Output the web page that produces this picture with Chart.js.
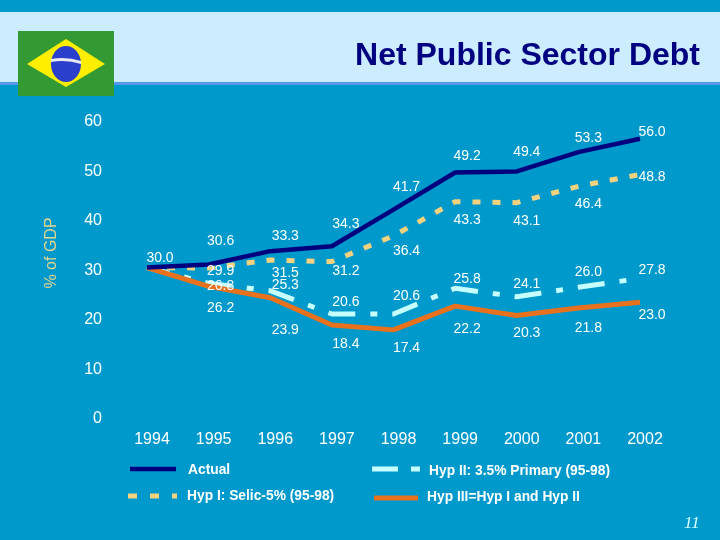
<!DOCTYPE html>
<html lang="en">
  <head>
    <meta charset="UTF-8" />
    <title>Net Public Sector Debt</title>
    <script src="https://cdn.jsdelivr.net/npm/chart.js"></script>
    <style>
      html, body { margin: 0; padding: 0; background: #0099cc; overflow: hidden; }
      #slide { position: relative; width: 720px; height: 540px; background: #0099cc; font-family: "Liberation Sans", Arial, sans-serif; }
      #band { position: absolute; left: 0; top: 12px; width: 720px; height: 70px; background: #ccecff; border-bottom: 3px solid #5599ee; }
      #title { position: absolute; right: 20px; top: 35px; font-size: 32px; line-height: 38px; font-weight: bold; color: #000080; white-space: nowrap; }
      #flag { position: absolute; left: 18px; top: 31px; }
      #pageNo { position: absolute; left: 684px; top: 513px; font: italic 17px "Liberation Serif", serif; color: #d8ffff; }
      canvas { position: absolute; left: 0; top: 0; }
    </style>
  </head>
  <body>
    <div id="slide">
      <div id="band"></div>
      <canvas id="debtChart" width="720" height="540"></canvas>
      <svg id="flag" width="96" height="65" viewBox="0 0 96 65">
        <rect width="96" height="65" fill="#339933" />
        <polygon points="48,8 87,33 48,56 9,33" fill="#ffee00" />
        <ellipse cx="48" cy="33" rx="15" ry="18" fill="#2a3fcc" />
        <path d="M33 28 Q48 25 63 30 L63 33 Q48 28 33 31 Z" fill="#e8e8f0" />
      </svg>
      <div id="title">Net Public Sector Debt</div>
      <div id="pageNo">11</div>
    </div>

    <script>
      var years = ['1994', '1995', '1996', '1997', '1998', '1999', '2000', '2001', '2002'];
      var yTicks = [0, 10, 20, 30, 40, 50, 60];

      var actual = [30.0, 30.6, 33.3, 34.3, 41.7, 49.2, 49.4, 53.3, 56.0];
      var hypOne = [30.0, 29.9, 31.5, 31.2, 36.4, 43.3, 43.1, 46.4, 48.8];
      var hypTwo = [30.0, 26.8, 25.3, 20.6, 20.6, 25.8, 24.1, 26.0, 27.8];
      var hypThree = [30.0, 26.2, 23.9, 18.4, 17.4, 22.2, 20.3, 21.8, 23.0];

      var actualName = 'Actual';
      var hypOneName = 'Hyp I: Selic-5% (95-98)';
      var hypTwoName = 'Hyp II: 3.5% Primary (95-98)';
      var hypThreeName = 'Hyp III=Hyp I and Hyp II';

      var white = '#ffffff';
      var navy = '#00007e';
      var sand = '#f5d27f';
      var ice = '#c5ffff';
      var orange = '#e8711e';

      // label nudges in px from each point, the source slide has them placed by hand
      var labelShift = [
        { dx: [13, 12, 15, 14, 13, 12, 10, 10, 12], dy: [-9, -23, -15, -22, -22, -16, -19, -14, -7] },
        { dx: [null, 12, 15, 14, 13, 12, 10, 10, 12], dy: [0, 3, 13, 10, 15, 18, 18, 18, 3] },
        { dx: [null, 12, 15, 14, 13, 12, 10, 10, 12], dy: [0, 3, -6, -12, -18, -9, -13, -15, -8] },
        { dx: [null, 12, 15, 14, 13, 12, 10, 10, 12], dy: [0, 22, 32, 19, 18, 23, 18, 20, 13] }
      ];

      var pointLabels = {
        id: 'pointLabels',
        afterDatasetsDraw: function (chart) {
          var ctx = chart.ctx;
          ctx.save();
          ctx.font = '14px "Liberation Sans", Arial, sans-serif';
          ctx.fillStyle = white;
          ctx.textAlign = 'center';
          ctx.textBaseline = 'middle';
          chart.data.datasets.forEach(function (ds, i) {
            chart.getDatasetMeta(i).data.forEach(function (pt, j) {
              var dx = labelShift[i].dx[j];
              if (dx === null) return;
              ctx.fillText(ds.data[j].toFixed(1), pt.x + dx, pt.y + labelShift[i].dy[j]);
            });
          });
          ctx.restore();
        }
      };

      var legendRows = [
        { ds: 0, x1: 130, x2: 176, y: 469, tx: 188, ty: 470, dash: [] },
        { ds: 1, x1: 128, x2: 177, y: 496, tx: 187, ty: 496, dash: [9, 13] },
        { ds: 2, x1: 372, x2: 420, y: 469, tx: 429, ty: 471, dash: [26, 13, 9, 13] },
        { ds: 3, x1: 374, x2: 418, y: 498, tx: 427, ty: 497, dash: [] }
      ];

      var slideLegend = {
        id: 'slideLegend',
        afterDraw: function (chart) {
          var ctx = chart.ctx;
          ctx.save();
          legendRows.forEach(function (row) {
            var ds = chart.data.datasets[row.ds];
            ctx.beginPath();
            ctx.strokeStyle = ds.borderColor;
            ctx.lineWidth = ds.borderWidth;
            ctx.setLineDash(row.dash);
            ctx.moveTo(row.x1, row.y);
            ctx.lineTo(row.x2, row.y);
            ctx.stroke();
            ctx.fillStyle = white;
            ctx.font = 'bold 13.8px "Liberation Sans", Arial, sans-serif';
            ctx.textBaseline = 'middle';
            ctx.fillText(ds.label, row.tx, row.ty);
          });
          // y axis title sits above the axis centre in the slide, so draw it here
          ctx.translate(52, 253);
          ctx.rotate(-Math.PI / 2);
          ctx.fillStyle = '#e5d58f';
          ctx.font = '16px "Liberation Sans", Arial, sans-serif';
          ctx.textAlign = 'center';
          ctx.fillText('% of GDP', 0, 0);
          ctx.restore();
        }
      };

      function makeLine(name, values, color, width, dash, dashOffset, order) {
        return {
          label: name,
          data: values,
          order: order,
          borderColor: color,
          backgroundColor: color,
          borderWidth: width,
          borderDash: dash,
          borderDashOffset: dashOffset,
          borderCapStyle: 'butt',
          borderJoinStyle: 'round',
          pointRadius: 0,
          tension: 0,
          fill: false
        };
      }

      new Chart(document.getElementById('debtChart').getContext('2d'), {
        type: 'line',
        data: {
          labels: years,
          datasets: [
            makeLine(actualName, actual, navy, 4.5, [], 0, 0),
            makeLine(hypOneName, hypOne, sand, 5, [8, 12], 0, 2),
            makeLine(hypTwoName, hypTwo, ice, 5, [27, 15, 7, 15], 4, 3),
            makeLine(hypThreeName, hypThree, orange, 5, [], 0, 1)
          ]
        },
        plugins: [pointLabels, slideLegend],
        options: {
          responsive: false,
          animation: false,
          layout: { padding: { left: 0, top: 119, right: 80, bottom: 84 } },
          plugins: { legend: { display: false }, tooltip: { enabled: false } },
          scales: {
            x: {
              offset: false,
              grid: { display: false, drawTicks: false },
              border: { display: false },
              afterFit: function (s) { s.height = 40; },
              ticks: {
                color: white,
                font: { family: '"Liberation Sans", Arial, sans-serif', size: 16 },
                padding: 14,
                labelOffset: 5,
                maxRotation: 0,
                autoSkip: false
              }
            },
            y: {
              min: 0,
              max: 60,
              afterFit: function (s) { s.width = 147; },
              afterBuildTicks: function (s) {
                s.ticks = yTicks.map(function (v) { return { value: v }; });
              },
              grid: { display: false, drawTicks: false },
              border: { display: false },
              ticks: {
                color: white,
                font: { family: '"Liberation Sans", Arial, sans-serif', size: 16 },
                padding: 45,
                labelOffset: 3
              }
            }
          }
        }
      });
    </script>
  </body>
</html>
